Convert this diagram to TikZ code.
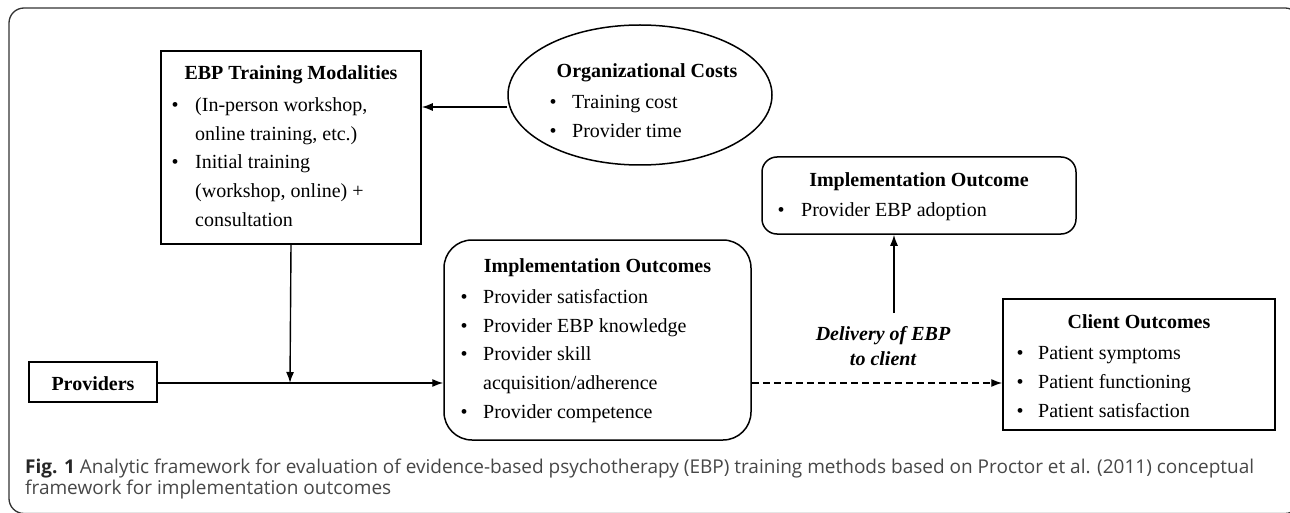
\documentclass[tikz,border=0pt]{standalone}
\usepackage{fontspec}
\setmainfont{Liberation Serif}
\newfontfamily\capfont{Open Sans}
\usetikzlibrary{arrows.meta,shapes.geometric}
\begin{document}
\begin{tikzpicture}[x=1pt,y=-1pt,
  box/.style={draw,line width=1.5pt,inner sep=0pt},
  rbox/.style={box,rounded corners=#1},
  ttl/.style={font=\fontsize{20}{24}\selectfont\bfseries,anchor=base,inner sep=0pt},
  itm/.style={font=\fontsize{20}{24}\selectfont,anchor=base west,inner sep=0pt},
  bul/.style={font=\fontsize{20}{24}\selectfont,anchor=base,inner sep=0pt},
  conn/.style={line width=1.4pt,-{Latex[length=11pt,width=8pt]}},
  captext/.style={font=\capfont\fontsize{19}{22}\selectfont,anchor=base west,inner sep=0pt,text=black!72},
]
\useasboundingbox (0,0) rectangle (1290,513);
% outer frame
\draw[line width=1.3pt,black!80,rounded corners=15pt] (9,8) rectangle (1300,513.5);

% EBP Training Modalities
\node[box,minimum width=260pt,minimum height=193pt] (ebp) at (291,147.5) {};
\node[ttl] (ebpT) at (291,80) {EBP Training Modalities};
\node[bul] (ebpb1) at (175,112) {•};
\node[itm] (ebp1) at (195,112) {(In-person workshop,};
\node[itm] (ebp2) at (195,140.5) {online training, etc.)};
\node[bul] (ebpb2) at (175,169) {•};
\node[itm] (ebp3) at (195,169) {Initial training};
\node[itm] (ebp4) at (195,197.5) {(workshop, online) +};
\node[itm] (ebp5) at (195,226) {consultation};

% Organizational Costs
\node[draw,ellipse,line width=1.5pt,minimum width=264pt,minimum height=140pt,inner sep=0pt] (org) at (640,95) {};
\node[ttl] (orgT) at (647,78) {Organizational Costs};
\node[bul] (orgb1) at (553,109) {•};
\node[itm] (org1) at (572,109) {Training cost};
\node[bul] (orgb2) at (553,138) {•};
\node[itm] (org2) at (572,138) {Provider time};

% Implementation Outcome (top)
\node[rbox=15pt,minimum width=314pt,minimum height=77pt] (io) at (919,195.5) {};
\node[ttl] (ioT) at (919,187) {Implementation Outcome};
\node[bul] (iob1) at (781,217) {•};
\node[itm] (io1) at (801,217) {Provider EBP adoption};

% Providers
\node[box,minimum width=128pt,minimum height=40pt] (prov) at (93,382) {};
\node[ttl] (provT) at (93,390) {Providers};

% Implementation Outcomes (centre)
\node[rbox=28pt,minimum width=307pt,minimum height=200pt] (ios) at (597.5,340) {};
\node[ttl] (iosT) at (597.5,272) {Implementation Outcomes};
\node[bul] (iosb1) at (464,303) {•};
\node[itm] (ios1) at (483,303) {Provider satisfaction};
\node[bul] (iosb2) at (464,332) {•};
\node[itm] (ios2) at (483,332) {Provider EBP knowledge};
\node[bul] (iosb3) at (464,360.5) {•};
\node[itm] (ios3) at (483,360.5) {Provider skill};
\node[itm] (ios4) at (483,389) {acquisition/adherence};
\node[bul] (iosb5) at (464,418) {•};
\node[itm] (ios5) at (483,418) {Provider competence};

% Client Outcomes
\node[box,minimum width=272pt,minimum height=131pt] (cli) at (1139,364.5) {};
\node[ttl] (cliT) at (1139,328) {Client Outcomes};
\node[bul] (clib1) at (1020,359) {•};
\node[itm] (cli1) at (1038,359) {Patient symptoms};
\node[bul] (clib2) at (1020,388) {•};
\node[itm] (cli2) at (1038,388) {Patient functioning};
\node[bul] (clib3) at (1020,417) {•};
\node[itm] (cli3) at (1038,417) {Patient satisfaction};

% delivery label
\node[ttl,font=\fontsize{20}{24}\selectfont\bfseries\itshape] (del1) at (883,340) {Delivery of EBP};
\node[ttl,font=\fontsize{20}{24}\selectfont\bfseries\itshape] (del2) at (883,365) {to client};

% connectors
\coordinate (j) at (290,383);
\coordinate (up) at (894,313);
\draw[conn] (org.west |- 0,107) -- (ebp.east |- 0,107);
\draw[conn] (ebp.south) -- (j);
\draw[conn] (prov.east |- j) -- (ios.west |- j);
\draw[conn,dashed,dash pattern=on 7pt off 4pt] (ios.east |- j) -- (cli.west |- j);
\draw[conn] (up) -- (io.south -| up);

% caption
\node[captext] (cap1) at (25,473) {\textbf{\color{black!85}Fig. 1} Analytic framework for evaluation of evidence-based psychotherapy (EBP) training methods based on Proctor et al. (2011) conceptual};
\node[captext] (cap2) at (25,494) {framework for implementation outcomes};
\end{tikzpicture}
\end{document}
